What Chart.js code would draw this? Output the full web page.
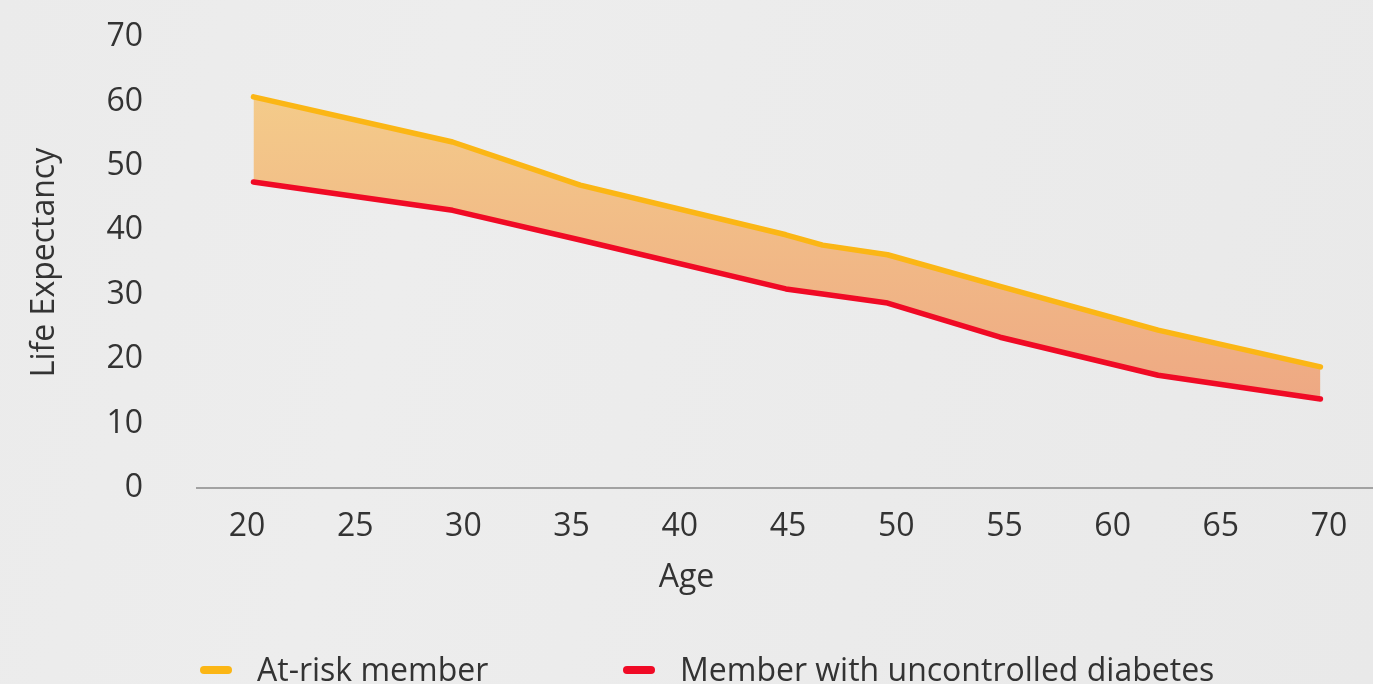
<!DOCTYPE html>
<html>
<head>
<meta charset="utf-8">
<title>Life Expectancy by Age</title>
<script src="https://cdn.jsdelivr.net/npm/chart.js@4/dist/chart.umd.min.js"></script>
<style>
  html, body {
    margin: 0;
    padding: 0;
    width: 1373px;
    height: 684px;
    overflow: hidden;
    background: linear-gradient(105deg, #ebebeb 0%, #ededed 30%, #e9e9e9 100%);
    font-family: "Open Sans", sans-serif;
  }
  #wrap { position: relative; width: 1373px; height: 684px; }
  canvas { display: block; }
  .item {
    position: absolute;
    top: 650px;
    display: flex;
    align-items: center;
    color: #333;
    font-size: 32px;
    line-height: 38px;
    white-space: nowrap;
  }
  .swatch { width: 32px; height: 8px; border-radius: 4px; margin-right: 25px; margin-top: 2px; }
</style>
</head>
<body>
<div id="wrap">
  <canvas id="chart" width="1373" height="684"></canvas>
</div>
<script>
// Ages (x) where each series changes slope, and the life expectancy at each.
const ages = [20.3, 29.5, 35.4, 44.9, 46.6, 49.6, 54.8, 62.1, 69.6];
const atRiskMember = [60.7, 53.7, 47.0, 39.3, 37.7, 36.2, 31.3, 24.5, 18.8];
const uncontrolledDiabetes = [47.5, 43.1, 38.5, 30.9, 30.1, 28.7, 23.4, 17.5, 13.8];

// Axis tick labels
const ageTicks = [20, 25, 30, 35, 40, 45, 50, 55, 60, 65, 70];
const lifeTicks = [0, 10, 20, 30, 40, 50, 60, 70];

const seriesNames = ['At-risk member', 'Member with uncontrolled diabetes'];
const seriesColors = ['#fbb615', '#f00a25'];

const textColor = '#333333';
const fontSize = 32;
Chart.defaults.font.family = '"Open Sans", sans-serif';

function points(values) {
  return ages.map((a, i) => ({ x: a, y: values[i] }));
}

// Orange band between the two curves
function bandFill(context) {
  const chart = context.chart;
  const area = chart.chartArea;
  if (!area) return 'rgba(242,190,130,0.9)';
  const y = chart.scales.y;
  const g = chart.ctx.createLinearGradient(0, y.getPixelForValue(62), 0, y.getPixelForValue(12));
  g.addColorStop(0, '#f4cc8a');
  g.addColorStop(1, '#eea783');
  return g;
}

const chart = new Chart(document.getElementById('chart'), {
  type: 'line',
  data: {
    datasets: [
      {
        label: seriesNames[0],
        data: points(atRiskMember),
        borderColor: seriesColors[0],
        backgroundColor: bandFill,
        fill: '+1',
        borderWidth: 5.5,
        borderCapStyle: 'round',
        borderJoinStyle: 'round',
        pointRadius: 0,
        tension: 0,
        order: 1
      },
      {
        label: seriesNames[1],
        data: points(uncontrolledDiabetes),
        borderColor: seriesColors[1],
        backgroundColor: seriesColors[1],
        fill: false,
        borderWidth: 5.5,
        borderCapStyle: 'round',
        borderJoinStyle: 'round',
        pointRadius: 0,
        tension: 0,
        order: 0
      }
    ]
  },
  options: {
    responsive: false,
    animation: false,
    layout: { padding: { top: 37, bottom: 86.6, left: 0, right: 0 } },
    plugins: {
      legend: { display: false },
      tooltip: { enabled: false },
      filler: { drawTime: 'beforeDatasetsDraw' },
      // Axis caption for the ages, centred under the whole figure
      title: {
        display: true,
        position: 'bottom',
        text: 'Age',
        color: textColor,
        font: { size: fontSize, weight: 'normal' },
        padding: { top: 11, bottom: 0 }
      }
    },
    scales: {
      x: {
        type: 'linear',
        min: 17.69,
        max: 72.03,
        afterBuildTicks: s => { s.ticks = ageTicks.map(v => ({ value: v })); },
        afterFit: s => { s.height = 60; },
        grid: { display: false, drawTicks: false },
        border: { display: true, color: '#a2a2a2', width: 2 },
        ticks: {
          padding: 20,
          color: textColor,
          font: { size: fontSize },
          maxRotation: 0,
          autoSkip: false
        }
      },
      y: {
        min: 0,
        max: 70,
        afterBuildTicks: s => { s.ticks = lifeTicks.map(v => ({ value: v })); },
        afterFit: s => {
          s.width = 197;
          s.paddingTop = 18;
          s.paddingBottom = 18;
        },
        grid: { display: false, drawTicks: false },
        border: { display: false },
        ticks: {
          padding: 54,
          color: textColor,
          font: { size: fontSize }
        },
        title: {
          display: true,
          text: 'Life Expectancy',
          color: textColor,
          font: { size: fontSize },
          padding: { top: 26, bottom: 0 }
        }
      }
    }
  }
});

// Legend built from the chart's datasets
const wrap = document.getElementById('wrap');
const legendLeft = [200, 623];
chart.data.datasets.forEach((ds, i) => {
  const item = document.createElement('div');
  item.className = 'item';
  item.style.left = legendLeft[i] + 'px';
  const sw = document.createElement('span');
  sw.className = 'swatch';
  sw.style.background = ds.borderColor;
  const label = document.createElement('span');
  label.textContent = ds.label;
  item.appendChild(sw);
  item.appendChild(label);
  wrap.appendChild(item);
});
</script>
</body>
</html>
